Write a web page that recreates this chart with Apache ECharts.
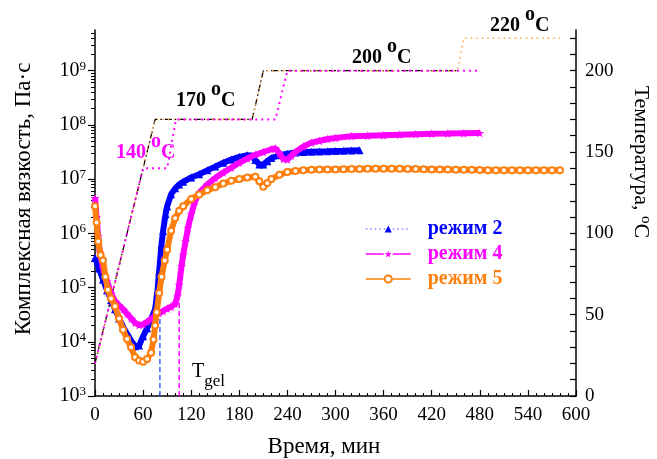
<!DOCTYPE html>
<html><head><meta charset="utf-8">
<script src="https://cdn.jsdelivr.net/npm/echarts@6/dist/echarts.min.js"></script>
<style>html,body{margin:0;padding:0;background:#fff}#c{width:657px;height:459px}</style>
</head><body><div id="c"></div>
<script>
// ---- data ----
const timeTicks = [0, 60, 120, 180, 240, 300, 360, 420, 480, 540, 600];
const viscExpLabels = [3, 4, 5, 6, 7, 8, 9];
const tempLabels = [0, 50, 100, 150, 200];

const blueTime = [0,5,10,15,20,25,30,35,40,45,50,55,60,65,70,75,78,80,83,85,88,90,95,100,105,110,120,130,140,150,160,170,180,190,195,200,205,210,215,220,230,240,250,260,270,280,290,300,310,320,330];
const blueVisc = [3.55e5,2.24e5,1.41e5,8.9e4,5.9e4,4.0e4,2.7e4,1.9e4,1.4e4,1.05e4,8.3e3,8.5e3,1.26e4,1.78e4,2.63e4,4.0e4,8.9e4,2.0e5,6.3e5,1.12e6,2.24e6,3.16e6,5.25e6,6.76e6,7.94e6,8.9e6,1.07e7,1.23e7,1.45e7,1.7e7,2.0e7,2.29e7,2.57e7,2.75e7,2.69e7,2.24e7,1.86e7,1.86e7,2.14e7,2.45e7,2.75e7,2.95e7,3.09e7,3.16e7,3.2e7,3.24e7,3.27e7,3.31e7,3.33e7,3.36e7,3.39e7];

const magTime = [0,2,4,6,10,15,20,25,30,35,40,45,50,55,60,65,70,75,80,85,90,95,100,103,105,108,110,113,116,120,125,130,140,150,160,170,180,190,200,210,220,225,230,235,240,245,250,260,270,280,290,300,320,340,360,380,400,420,440,460,480];
const magVisc = [4.47e6,2.0e6,8.9e5,4.47e5,2.24e5,1.32e5,7.9e4,5.6e4,4.7e4,4.0e4,3.3e4,2.7e4,2.24e4,2.04e4,2.09e4,2.34e4,2.63e4,3.0e4,3.4e4,3.7e4,4.1e4,4.4e4,5.0e4,7.1e4,1.12e5,2.5e5,4.0e5,7.1e5,1.26e6,2.24e6,4.0e6,5.6e6,7.9e6,1.05e7,1.32e7,1.62e7,2.0e7,2.4e7,2.8e7,3.16e7,3.55e7,3.7e7,3.0e7,2.34e7,2.29e7,2.7e7,3.16e7,4.0e7,4.7e7,5.1e7,5.5e7,5.75e7,6.2e7,6.3e7,6.45e7,6.6e7,6.75e7,6.85e7,6.9e7,7.0e7,7.1e7];

const orTime = [0,2,4,7,10,13,16,20,25,30,35,40,45,50,55,60,65,70,73,75,77,80,83,87,90,95,100,105,110,120,130,140,150,160,170,180,190,200,205,210,215,220,230,240,
  250,260,270,280,290,300,310,320,330,340,350,360,370,380,390,400,410,420,430,440,450,460,470,480,490,500,510,520,530,540,550,560,570,580];
const orVisc = [3.16e6,1.58e6,7.1e5,4.0e5,3.16e5,1.58e5,9.1e4,6.3e4,4.5e4,2.7e4,1.66e4,1.12e4,7.9e3,5.2e3,4.5e3,4.3e3,4.8e3,6.3e3,1.1e4,2.0e4,3.5e4,7.9e4,1.58e5,3.16e5,5.0e5,1.12e6,1.9e6,2.6e6,3.16e6,4.3e6,5.2e6,6.2e6,7.1e6,8.3e6,9.3e6,1.0e7,1.07e7,1.1e7,9.1e6,7.2e6,8.5e6,1.0e7,1.2e7,1.35e7,
  1.41e7,1.45e7,1.48e7,1.5e7,1.51e7,1.51e7,1.52e7,1.53e7,1.54e7,1.55e7,1.55e7,1.55e7,1.55e7,1.55e7,1.54e7,1.53e7,1.52e7,1.51e7,1.5e7,1.5e7,1.49e7,1.48e7,1.48e7,1.47e7,1.46e7,1.46e7,1.45e7,1.45e7,1.45e7,1.45e7,1.45e7,1.45e7,1.45e7,1.45e7];

// temperature programs (°C)
const tBlackTime = [0, 75, 196, 210, 452];
const tBlackTemp = [20, 170, 170, 200, 200];
const tMagTime = [0, 60, 90, 101, 225, 240, 480];
const tMagTemp = [20, 140, 140, 170, 170, 200, 200];
const tOrTime = [0, 75, 196, 210, 452, 460, 580];
const tOrTemp = [20, 170, 170, 200, 200, 220, 220];

// gel points
const gelTime = [81, 105];
const gelVisc = [3.5e4, 5.5e4];

// ---- build ----
const zip = (a, b) => a.map((v, i) => [v, b[i]]);
const FF = 'Liberation Serif';
const BLUE = '#0000ff', MAG = '#ff00ff', OR = '#ff7f0e';
const STAR = 'path://M50,0 L61,35 L98,35 L68,57 L79,91 L50,70 L21,91 L32,57 L2,35 L39,35 Z';

const minorLog = [];
for (let n = 3; n <= 9; n++) for (let k = 2; k <= 9; k++) { const v = n + Math.log10(k); if (v < 9.75) minorLog.push(v); }
const rightTicks = []; for (let t = 0; t <= 220; t += 10) rightTicks.push(t);

const axLine = { show: true, onZero: false, lineStyle: { color: '#000', width: 1.5 } };
const lblStyle = { color: '#000', fontFamily: FF, fontSize: 19 };

function tempLabel(txt, color, x, yc) {
  return { type: 'text', x: x, y: yc,
    style: { text: '{n|' + txt + ' }{s|o}{n|C}', fill: color, align: 'left', verticalAlign: 'middle',
      rich: { n: { fontFamily: FF, fontWeight: 'bold', fontSize: 20, lineHeight: 42, color: color },
              s: { fontFamily: FF, fontWeight: 'bold', fontSize: 20, lineHeight: 14, verticalAlign: 'top', color: color } } } };
}

const chart = echarts.init(document.getElementById('c'), null, { renderer: 'canvas' });
chart.setOption({
  animation: false,
  backgroundColor: '#fff',
  grid: { left: 95, right: 81, top: 30, bottom: 63 },
  legend: {
    left: 360, top: 214, orient: 'vertical', itemWidth: 45, itemHeight: 9, itemGap: 5,
    textStyle: { fontFamily: FF, fontSize: 20, fontWeight: 'bold', padding: [0, 0, 0, 12] },
    data: [
      { name: 'режим 2', textStyle: { color: BLUE }, lineStyle: { type: [1.5, 3], width: 1.5, color: '#8888ff' } },
      { name: 'режим 4', textStyle: { color: MAG }, lineStyle: { type: [18, 9, 18], width: 1.5, color: MAG } },
      { name: 'режим 5', textStyle: { color: OR }, lineStyle: { type: [18, 9, 18], width: 1.5, color: OR } }
    ]
  },
  xAxis: {
    type: 'value', min: 0, max: 600, interval: 60,
    axisLine: axLine,
    axisTick: { inside: true, length: 6, lineStyle: { color: '#000', width: 1.2 } },
    minorTick: { show: true, splitNumber: 6, length: 3, lineStyle: { color: '#000', width: 1 } },
    axisLabel: Object.assign({ margin: 10, customValues: timeTicks }, lblStyle),
    splitLine: { show: false }
  },
  yAxis: [
    { type: 'log', logBase: 10, min: 1000, max: 5.62e9, position: 'left',
      axisLine: axLine, axisTick: { show: false }, axisLabel: { show: false }, splitLine: { show: false } },
    { type: 'value', min: 0, max: 225, position: 'right',
      axisLine: axLine,
      axisTick: { inside: true, length: 6, customValues: rightTicks, lineStyle: { color: '#000', width: 1.2 } },
      axisLabel: Object.assign({ margin: 9, customValues: tempLabels }, lblStyle),
      splitLine: { show: false } },
    { type: 'value', min: 3, max: 9.75, position: 'left',
      axisLine: { show: false, onZero: false },
      axisTick: { length: 7, customValues: viscExpLabels, lineStyle: { color: '#000', width: 1.2 } },
      axisLabel: { margin: 9, customValues: viscExpLabels,
        formatter: v => '{b|10}{s|' + v + '}',
        rich: { b: { fontFamily: FF, fontSize: 20, color: '#000', lineHeight: 22 },
                s: { fontFamily: FF, fontSize: 13, color: '#000', lineHeight: 13, verticalAlign: 'top' } } },
      splitLine: { show: false } },
    { type: 'value', min: 3, max: 9.75, position: 'left',
      axisLine: { show: false, onZero: false },
      axisTick: { length: 4, customValues: minorLog, lineStyle: { color: '#000', width: 1 } },
      axisLabel: { show: false }, splitLine: { show: false } }
  ],
  series: [
    { name: 'tBlack', type: 'line', yAxisIndex: 1, data: zip(tBlackTime, tBlackTemp), symbol: 'none',
      lineStyle: { color: '#000', width: 1.3, type: [7, 3, 1.5, 3] }, z: 2 },
    { name: 'tOr', type: 'line', yAxisIndex: 1, data: zip(tOrTime, tOrTemp), symbol: 'none',
      lineStyle: { color: '#ffa040', width: 1.5, type: [1.5, 4] }, z: 2 },
    { name: 'tMag', type: 'line', yAxisIndex: 1, data: zip(tMagTime, tMagTemp), symbol: 'none',
      lineStyle: { color: MAG, width: 2, type: [2, 4] }, z: 2 },
    { name: 'gel2', type: 'line', yAxisIndex: 0, data: [[gelTime[0], 1000], [gelTime[0], gelVisc[0]]], symbol: 'none',
      lineStyle: { color: '#4060ff', width: 1.5, type: [5, 3] }, z: 2 },
    { name: 'gel4', type: 'line', yAxisIndex: 0, data: [[gelTime[1], 1000], [gelTime[1], gelVisc[1]]], symbol: 'none',
      lineStyle: { color: MAG, width: 1.5, type: [5, 3] }, z: 2 },
    { name: 'режим 2', type: 'line', yAxisIndex: 0, data: zip(blueTime, blueVisc),
      symbol: 'triangle', symbolSize: 8, itemStyle: { color: BLUE },
      lineStyle: { color: BLUE, width: 6 }, z: 3 },
    { name: 'режим 4', type: 'line', yAxisIndex: 0, data: zip(magTime, magVisc),
      symbol: STAR, symbolSize: 9, itemStyle: { color: MAG },
      lineStyle: { color: MAG, width: 6 }, z: 4 },
    { name: 'режим 5', type: 'line', yAxisIndex: 0, data: zip(orTime, orVisc),
      symbol: 'emptyCircle', symbolSize: 6, itemStyle: { color: OR, borderWidth: 1.3 },
      lineStyle: { color: OR, width: 6 }, z: 5 }
  ],
  graphic: [
    { type: 'text', x: 24, y: 199, rotation: Math.PI / 2,
      style: { text: 'Комплексная вязкость, Па·с', font: '23px "Liberation Serif"', fill: '#000', align: 'center', verticalAlign: 'middle' } },
    { type: 'text', x: 641, y: 162, rotation: -Math.PI / 2,
      style: { text: '{n|Температура, }{s|o}{n|C}', fill: '#000', align: 'center', verticalAlign: 'middle',
        rich: { n: { fontFamily: FF, fontSize: 22, lineHeight: 24 }, s: { fontFamily: FF, fontSize: 15, lineHeight: 14, verticalAlign: 'top' } } } },
    { type: 'text', x: 324, y: 447,
      style: { text: 'Время, мин', font: '23px "Liberation Serif"', fill: '#000', align: 'center', verticalAlign: 'middle' } },
    { type: 'text', x: 192, y: 376,
      style: { text: '{t|T}{g|gel}', fill: '#000', align: 'left', verticalAlign: 'middle',
        rich: { t: { fontFamily: FF, fontSize: 20, lineHeight: 28, verticalAlign: 'top' }, g: { fontFamily: FF, fontSize: 17, lineHeight: 20, verticalAlign: 'bottom' } } } },
    tempLabel('170', '#000', 176, 101),
    tempLabel('140', MAG, 116, 153),
    tempLabel('200', '#000', 352, 58),
    tempLabel('220', '#000', 490, 26)
  ]
});
</script>
</body></html>
